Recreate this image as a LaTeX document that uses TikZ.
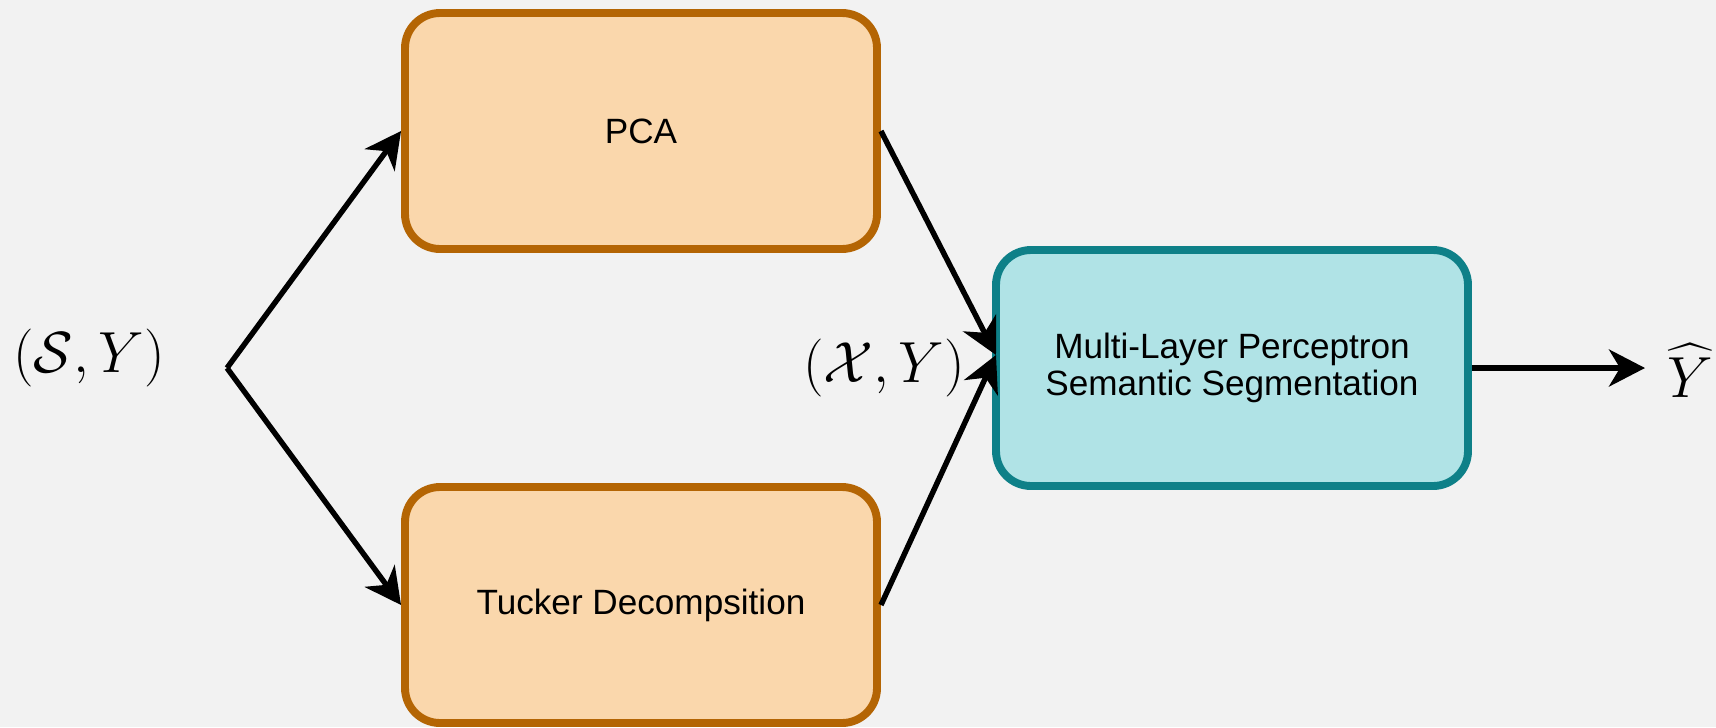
\RequirePackage{fix-cm}
\documentclass[tikz,border=0pt]{standalone}
\usepackage{exscale}
\usepackage[no-math]{fontspec}
\newfontfamily\boxfont{Liberation Sans}
\usetikzlibrary{arrows.meta}

\definecolor{paper}{HTML}{F2F2F2}
\definecolor{stagefill}{HTML}{FAD7AC}
\definecolor{stageline}{HTML}{B46504}
\definecolor{mlpfill}{HTML}{B0E3E6}
\definecolor{mlpline}{HTML}{0E8088}

\tikzstyle{stage} = [rectangle, rounded corners=0.7cm, minimum width=9.44cm, minimum height=4.72cm, text centered, line width=4.5pt, draw=stageline, fill=stagefill, font=\boxfont\fontsize{20}{21}\selectfont]
\tikzstyle{classifier} = [stage, align=center, draw=mlpline, fill=mlpfill]
\tikzstyle{tensor} = [font=\fontsize{33}{40}\selectfont]
\tikzstyle{arrow} = [line width=3.1pt, -{Stealth[length=0.72cm, width=0.74cm, inset=0.22cm]}]

\begin{document}
\begin{tikzpicture}[node distance=9.48cm]
  \useasboundingbox [fill=paper] (0,0) rectangle (34.32,-14.54);

  \node (pca) [stage] at (12.82,-2.62) {PCA};
  \node (tucker) [stage, below of=pca] {Tucker Decompsition};
  \node (mlp) [classifier] at (24.64,-7.36) {Multi-Layer Perceptron\\Semantic Segmentation};

  \node (input) [tensor] at (1.78,-7.16) {$(\mathcal{S},Y)$};
  \node (latent) [tensor] at (17.68,-7.36) {$(\mathcal{X},Y)$};
  \node (output) [tensor, anchor=base west, inner sep=0.44cm] at (32.90,-7.94) {$\widehat{Y}$};

  % fork and join points of the two branches
  \coordinate (split) at (4.54,-7.36);
  \coordinate (merge) at (19.92,-7.10);

  \draw [arrow] (split) -- (pca.west);
  \draw [arrow] (split) -- (tucker.west);
  \draw [arrow] (pca.east) -- (merge);
  \draw [arrow] (tucker.east) -- (merge);
  \draw [arrow] (mlp.east) -- (mlp.east -| output.west);
\end{tikzpicture}
\end{document}
